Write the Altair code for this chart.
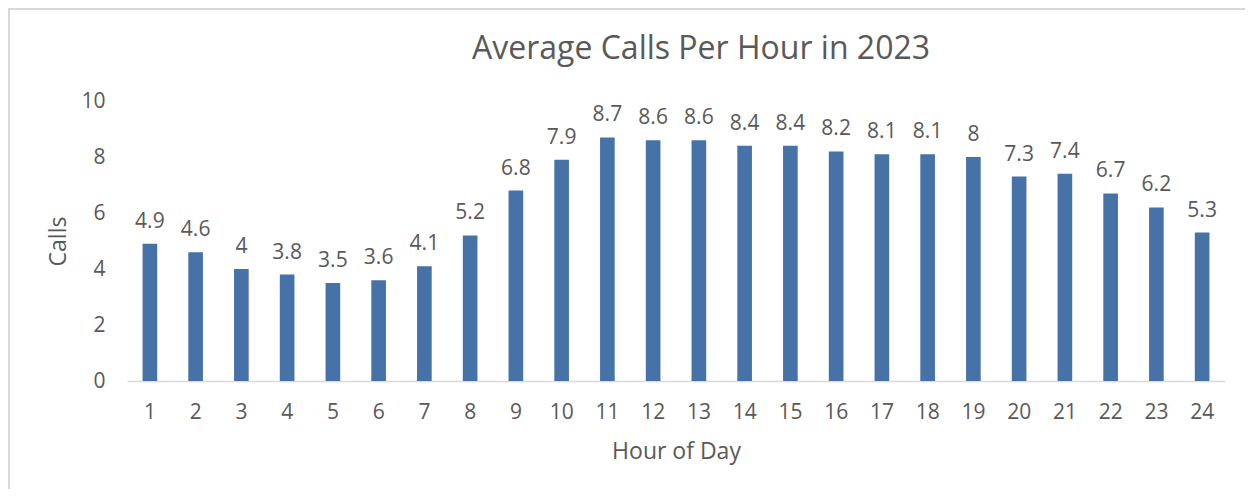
import altair as alt
import pandas as pd

hours = [str(h) for h in range(1, 25)]
calls = [4.9, 4.6, 4.0, 3.8, 3.5, 3.6, 4.1, 5.2, 6.8, 7.9, 8.7, 8.6,
         8.6, 8.4, 8.4, 8.2, 8.1, 8.1, 8.0, 7.3, 7.4, 6.7, 6.2, 5.3]
y_ticks = [0, 2, 4, 6, 8, 10]
title_text = "Average Calls Per Hour in 2023"

df = pd.DataFrame({"hour": hours, "calls": calls})
one = pd.DataFrame({"a": [0]})

FONT = "Open Sans"
TXT = "#595959"
BAR = "#4672A7"

x_enc = alt.X(
    "hour:N",
    sort=hours,
    title="Hour of Day",
    scale=alt.Scale(paddingInner=0.68, paddingOuter=0.34),
    axis=alt.Axis(
        labelAngle=0, ticks=False, tickSize=0, labelPadding=20,
        labelFontSize=21, labelColor=TXT, labelFont=FONT,
        titleFontSize=23, titleColor=TXT, titleFont=FONT, titleFontWeight="normal",
        titlePadding=18, domainColor="#D9D9D9", domainWidth=1.5, grid=False,
    ),
)
y_enc = alt.Y(
    "calls:Q",
    title="Calls",
    scale=alt.Scale(domain=[0, 10], nice=False),
    axis=alt.Axis(
        values=y_ticks, ticks=False, tickSize=0, domain=False, grid=False,
        labelPadding=22, labelFontSize=21, labelColor=TXT, labelFont=FONT,
        titleFontSize=23, titleColor=TXT, titleFont=FONT, titleFontWeight="normal",
        titlePadding=10,
    ),
)

base = alt.Chart(df)
bars = base.mark_bar(color=BAR).encode(x=x_enc, y=y_enc)
labels = base.mark_text(
    baseline="alphabetic", dy=-16, fontSize=21, font=FONT, color=TXT
).encode(x=alt.X("hour:N", sort=hours), y="calls:Q", text=alt.Text("calls:Q", format="~g"))

border = alt.Chart(one).mark_rect(
    fill=None, stroke="#D9D9D9", strokeWidth=2
).encode(
    x=alt.value(-118), x2=alt.value(1400), y=alt.value(-92), y2=alt.value(600)
)

title = alt.Chart(one).mark_text(
    fontSize=32, font=FONT, color=TXT, baseline="middle", align="center"
).encode(x=alt.value(574), y=alt.value(-52), text=alt.value(title_text))

chart = alt.layer(border, bars, labels, title).properties(
    width=1098,
    height=280,
    autosize=alt.AutoSizeParams(type="none"),
    padding={"left": 119, "top": 93, "right": 20, "bottom": 108},
).configure_view(stroke=None)

chart.save("out.html", embed_options={"renderer": "svg", "actions": False})
